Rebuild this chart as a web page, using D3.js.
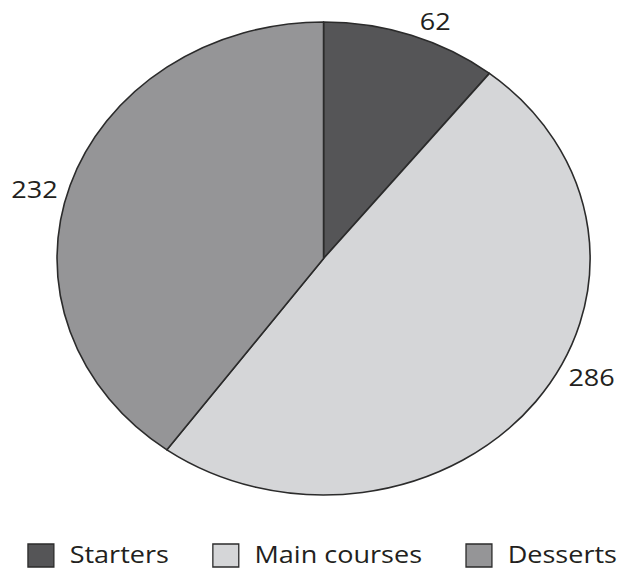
<!DOCTYPE html>
<html>
<head>
<meta charset="utf-8">
<script src="https://cdn.jsdelivr.net/npm/d3@7"></script>
<style>
  html, body { margin: 0; padding: 0; background: #fff; }
  svg { display: block; }
  text { font-family: "Open Sans", "DejaVu Sans", sans-serif; fill: #231f20; }
</style>
</head>
<body>
<svg id="chart" width="620" height="570"></svg>
<script>
// Orders per menu course
const categories = ["Starters", "Main courses", "Desserts"];
const values = [62, 286, 232];
const colors = ["#555557", "#d5d6d8", "#959597"];

// Layout (the whole chart is drawn in a frame widened horizontally)
const stretchX = 1.127;
const cx = 287.1, cy = 258.5, radius = 236.5;
const labelFont = 24, legendFont = 24;
const labelGap = 7;
// direction (degrees clockwise from 12 o'clock) in which each value label sits
const labelDirections = [22.7, 116.5, 285];

const svg = d3.select("#chart");
const root = svg.append("g").attr("transform", `scale(${stretchX},1)`);

const data = categories.map((c, i) => ({ name: c, value: values[i], color: colors[i] }));

const pie = d3.pie().sort(null).value(d => d.value);
const arcs = pie(data);
const arc = d3.arc().innerRadius(0).outerRadius(radius);

const pieG = root.append("g").attr("transform", `translate(${cx},${cy})`);

pieG.selectAll("path")
  .data(arcs)
  .join("path")
  .attr("d", arc)
  .attr("fill", d => d.data.color)
  .attr("stroke", "#2b2b2b")
  .attr("stroke-width", 1.6)
  .attr("stroke-linejoin", "round")
  .attr("vector-effect", "non-scaling-stroke");

// Value labels: centred outside the rim, pushed out by half their own box
pieG.selectAll("text")
  .data(arcs)
  .join("text")
  .attr("font-size", labelFont)
  .attr("text-anchor", "middle")
  .text(d => d.data.value)
  .each(function (d, i) {
    const a = labelDirections[i] * Math.PI / 180;
    const s = Math.sin(a), c = Math.cos(a);
    const w = this.getComputedTextLength();
    const h = labelFont * 0.714;
    const r = radius + labelGap + Math.abs(s) * w / 2 + Math.abs(c) * h / 2;
    d3.select(this)
      .attr("x", r * s)
      .attr("y", -r * c + h / 2);
  });

// Legend along the bottom: swatch, name, then the next entry
const legend = root.append("g").attr("transform", "translate(24.8,544)");
const box = 23, boxGap = 14, itemGap = 39;
let xPos = 0;
data.forEach(d => {
  const item = legend.append("g").attr("transform", `translate(${xPos},0)`);
  item.append("rect")
    .attr("width", box).attr("height", box)
    .attr("fill", d.color)
    .attr("stroke", "#2b2b2b")
    .attr("stroke-width", 1.3)
    .attr("vector-effect", "non-scaling-stroke");
  const t = item.append("text")
    .attr("x", box + boxGap)
    .attr("y", 19)
    .attr("font-size", legendFont)
    .text(d.name);
  xPos += box + boxGap + t.node().getComputedTextLength() + itemGap;
});
</script>
</body>
</html>
